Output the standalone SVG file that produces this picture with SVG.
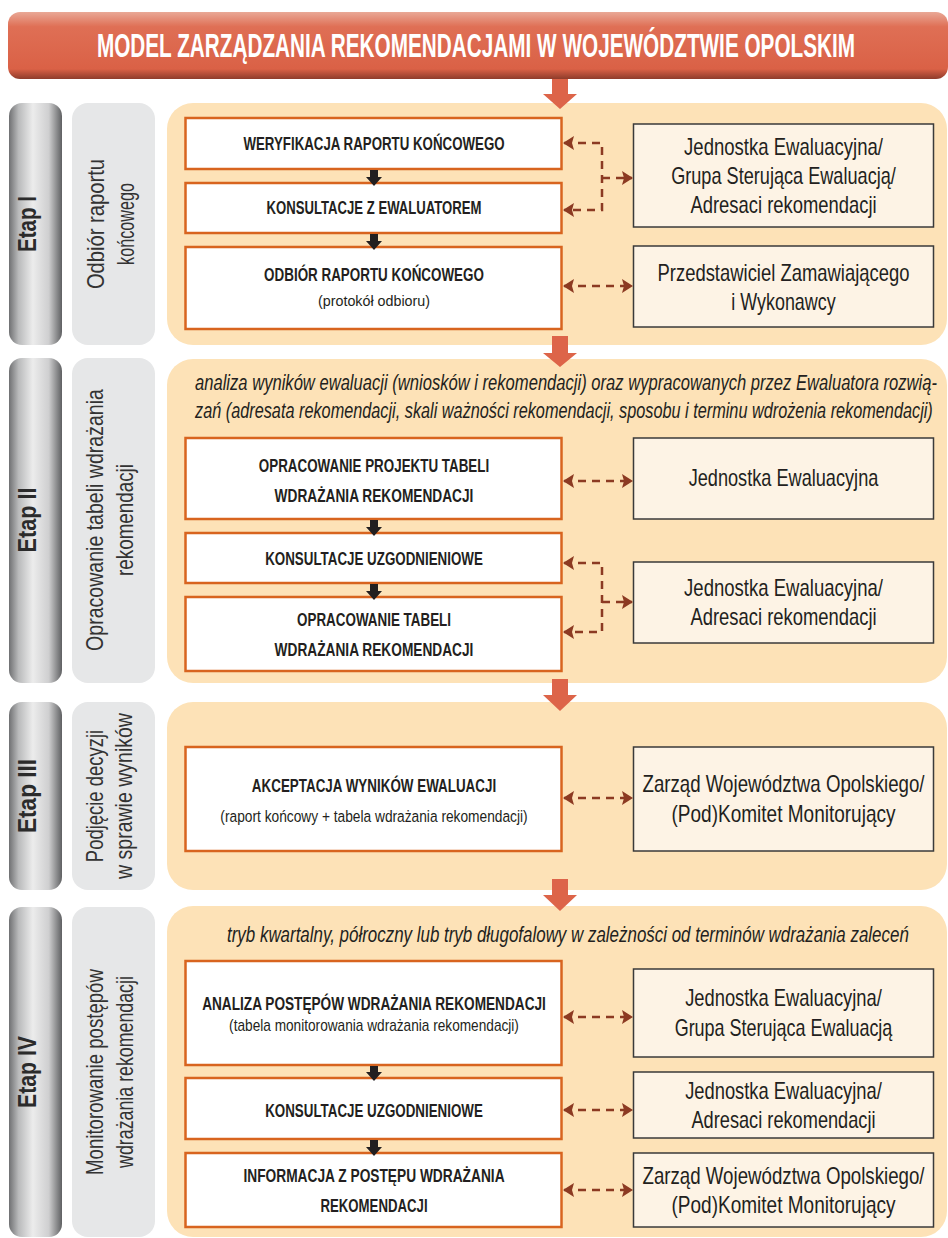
<svg xmlns="http://www.w3.org/2000/svg" width="948" height="1238" viewBox="0 0 948 1238">
<defs>
<linearGradient id="gTitle" x1="0" y1="0" x2="0" y2="1">
<stop offset="0" stop-color="#e9a896"/>
<stop offset="0.22" stop-color="#df6f55"/>
<stop offset="0.85" stop-color="#da6146"/>
<stop offset="1" stop-color="#8e3c2b"/>
</linearGradient>
<linearGradient id="gPill" x1="0" y1="0" x2="1" y2="0">
<stop offset="0" stop-color="#6f7072"/>
<stop offset="0.18" stop-color="#b9babb"/>
<stop offset="0.45" stop-color="#ececec"/>
<stop offset="0.75" stop-color="#cfcfd0"/>
<stop offset="1" stop-color="#5f6062"/>
</linearGradient>
<marker id="ah" markerUnits="userSpaceOnUse" markerWidth="12" markerHeight="14" refX="10" refY="7" orient="auto-start-reverse">
<path d="M0,0 L11,7 L0,14 L2,7 z" fill="#8c3a22"/>
</marker>
<style>
.t{font-family:"Liberation Sans",Arial,sans-serif;fill:#231f20}
.bx{font-weight:bold;font-size:19px;text-anchor:middle}
.sub{font-size:16px;text-anchor:middle}
.rt{font-size:23px;text-anchor:middle}
.it{font-style:italic;font-size:22px}
.side{font-size:23px;text-anchor:middle;fill:#333}
.etap{font-weight:bold;font-size:25px;text-anchor:middle;fill:#2b2b2b}
.ttl{font-weight:bold;font-size:33px;text-anchor:middle;fill:#ffffff}
.panel{fill:#fde2b7}
.lbox{fill:#ffffff;stroke:#d8641f;stroke-width:2.5}
.rbox{fill:#fdf3e5;stroke:#3a3a3a;stroke-width:1.5}
.pill{fill:url(#gPill)}
.side-bg{fill:#e6e7e8}
.dash{fill:none;stroke:#8c3a22;stroke-width:2.5;stroke-dasharray:8 6;marker-start:url(#ah);marker-end:url(#ah)}
.dash1{fill:none;stroke:#8c3a22;stroke-width:2.5;stroke-dasharray:8 6;marker-end:url(#ah)}
.red{fill:#dd6449}
.blk{fill:#231f20}
</style>
</defs>
<rect width="948" height="1238" fill="#ffffff"/>

<g id="title">
<rect x="8" y="12" width="940" height="67" rx="12" fill="url(#gTitle)"/>
<text class="t ttl" transform="translate(476,57) scale(0.61,1)" textLength="1243" lengthAdjust="spacingAndGlyphs">MODEL ZARZĄDZANIA REKOMENDACJAMI W WOJEWÓDZTWIE OPOLSKIM</text>
</g>

<g id="etap1-bg">
<rect class="pill" x="9" y="103" width="53" height="242" rx="13"/>
<rect class="side-bg" x="72" y="103" width="83" height="242" rx="16"/>
<rect class="panel" x="167" y="103" width="780" height="242" rx="26"/>
<text class="t etap" transform="translate(36,224) rotate(-90) scale(0.7,1)" textLength="80" lengthAdjust="spacingAndGlyphs">Etap I</text>
<text class="t side" transform="translate(104,224) rotate(-90) scale(0.7,1)" textLength="186" lengthAdjust="spacingAndGlyphs">Odbiór raportu</text>
<text class="t side" transform="translate(134,224) rotate(-90) scale(0.7,1)" textLength="117" lengthAdjust="spacingAndGlyphs">końcowego</text>
</g>
<g id="etap2-bg">
<rect class="pill" x="9" y="358" width="53" height="325" rx="13"/>
<rect class="side-bg" x="72" y="358" width="83" height="325" rx="16"/>
<rect class="panel" x="167" y="359" width="780" height="324" rx="26"/>
<text class="t etap" transform="translate(36,520) rotate(-90) scale(0.7,1)" textLength="93" lengthAdjust="spacingAndGlyphs">Etap II</text>
<text class="t side" transform="translate(103,520) rotate(-90) scale(0.7,1)" textLength="374" lengthAdjust="spacingAndGlyphs">Opracowanie tabeli wdrażania</text>
<text class="t side" transform="translate(133,520) rotate(-90) scale(0.7,1)" textLength="160" lengthAdjust="spacingAndGlyphs">rekomendacji</text>
<text class="t it" transform="translate(195,390) scale(0.7,1)" textLength="1060" lengthAdjust="spacingAndGlyphs">analiza wyników ewaluacji (wniosków i rekomendacji) oraz wypracowanych przez Ewaluatora rozwią-</text>
<text class="t it" transform="translate(195,418) scale(0.7,1)" textLength="1054" lengthAdjust="spacingAndGlyphs">zań (adresata rekomendacji, skali ważności rekomendacji, sposobu i terminu wdrożenia rekomendacji)</text>
</g>
<g id="etap3-bg">
<rect class="pill" x="9" y="702" width="53" height="188" rx="13"/>
<rect class="side-bg" x="72" y="702" width="83" height="188" rx="16"/>
<rect class="panel" x="167" y="702" width="780" height="188" rx="26"/>
<text class="t etap" transform="translate(36,796) rotate(-90) scale(0.7,1)" textLength="106" lengthAdjust="spacingAndGlyphs">Etap III</text>
<text class="t side" transform="translate(103,796) rotate(-90) scale(0.7,1)" textLength="189" lengthAdjust="spacingAndGlyphs">Podjęcie decyzji</text>
<text class="t side" transform="translate(132,796) rotate(-90) scale(0.7,1)" textLength="237" lengthAdjust="spacingAndGlyphs">w sprawie wyników</text>
</g>
<g id="etap4-bg">
<rect class="pill" x="9" y="907" width="53" height="330" rx="13"/>
<rect class="side-bg" x="72" y="907" width="83" height="330" rx="16"/>
<rect class="panel" x="167" y="906" width="780" height="331" rx="26"/>
<text class="t etap" transform="translate(36,1072) rotate(-90) scale(0.7,1)" textLength="103" lengthAdjust="spacingAndGlyphs">Etap IV</text>
<text class="t side" transform="translate(103,1072) rotate(-90) scale(0.7,1)" textLength="294" lengthAdjust="spacingAndGlyphs">Monitorowanie postępów</text>
<text class="t side" transform="translate(133,1072) rotate(-90) scale(0.7,1)" textLength="274" lengthAdjust="spacingAndGlyphs">wdrażania rekomendacji</text>
<text class="t it" transform="translate(227,942) scale(0.7,1)" textLength="974" lengthAdjust="spacingAndGlyphs">tryb kwartalny, półroczny lub tryb długofalowy w zależności od terminów wdrażania zaleceń</text>
</g>

<g id="n-weryfikacja">
<rect class="lbox" x="185.5" y="118" width="376" height="51"/>
<text class="t bx" transform="translate(374,150) scale(0.7,1)" textLength="373" lengthAdjust="spacingAndGlyphs">WERYFIKACJA RAPORTU KOŃCOWEGO</text>
</g>
<g id="n-konsultacje-ewal">
<rect class="lbox" x="185.5" y="183" width="376" height="50"/>
<text class="t bx" transform="translate(374,214) scale(0.7,1)" textLength="307" lengthAdjust="spacingAndGlyphs">KONSULTACJE Z EWALUATOREM</text>
</g>
<g id="n-odbior">
<rect class="lbox" x="185.5" y="247" width="376" height="82"/>
<text class="t bx" transform="translate(374,281) scale(0.7,1)" textLength="314" lengthAdjust="spacingAndGlyphs">ODBIÓR RAPORTU KOŃCOWEGO</text>
<text class="t sub" transform="translate(374,306) scale(0.7,1)" style="font-size:15px" textLength="160" lengthAdjust="spacingAndGlyphs">(protokół odbioru)</text>
</g>
<g id="r-jednostka-grupa-adresaci">
<rect class="rbox" x="633.5" y="124" width="300" height="103"/>
<text class="t rt" transform="translate(783.5,155) scale(0.7,1)" textLength="284" lengthAdjust="spacingAndGlyphs">Jednostka Ewaluacyjna/</text>
<text class="t rt" transform="translate(783.5,184) scale(0.7,1)" textLength="321" lengthAdjust="spacingAndGlyphs">Grupa Sterująca Ewaluacją/</text>
<text class="t rt" transform="translate(783.5,213) scale(0.7,1)" textLength="266" lengthAdjust="spacingAndGlyphs">Adresaci rekomendacji</text>
</g>
<g id="r-przedstawiciel">
<rect class="rbox" x="633.5" y="246" width="300" height="81"/>
<text class="t rt" transform="translate(783.5,281) scale(0.7,1)" textLength="360" lengthAdjust="spacingAndGlyphs">Przedstawiciel Zamawiającego</text>
<text class="t rt" transform="translate(783.5,310) scale(0.7,1)" textLength="149" lengthAdjust="spacingAndGlyphs">i Wykonawcy</text>
</g>

<g id="n-projekt-tabeli">
<rect class="lbox" x="185.5" y="438" width="376" height="81"/>
<text class="t bx" transform="translate(374,472) scale(0.7,1)" textLength="329" lengthAdjust="spacingAndGlyphs">OPRACOWANIE PROJEKTU TABELI</text>
<text class="t bx" transform="translate(374,502) scale(0.7,1)" textLength="284" lengthAdjust="spacingAndGlyphs">WDRAŻANIA REKOMENDACJI</text>
</g>
<g id="n-konsultacje-2">
<rect class="lbox" x="185.5" y="533" width="376" height="50"/>
<text class="t bx" transform="translate(374,565) scale(0.7,1)" textLength="311" lengthAdjust="spacingAndGlyphs">KONSULTACJE UZGODNIENIOWE</text>
</g>
<g id="n-tabela">
<rect class="lbox" x="185.5" y="597" width="376" height="74"/>
<text class="t bx" transform="translate(374,626) scale(0.7,1)" textLength="220" lengthAdjust="spacingAndGlyphs">OPRACOWANIE TABELI</text>
<text class="t bx" transform="translate(374,656) scale(0.7,1)" textLength="284" lengthAdjust="spacingAndGlyphs">WDRAŻANIA REKOMENDACJI</text>
</g>
<g id="r-jednostka-2">
<rect class="rbox" x="633.5" y="438" width="300" height="81"/>
<text class="t rt" transform="translate(783.5,486) scale(0.7,1)" textLength="271" lengthAdjust="spacingAndGlyphs">Jednostka Ewaluacyjna</text>
</g>
<g id="r-jednostka-adresaci-2">
<rect class="rbox" x="633.5" y="562" width="300" height="81"/>
<text class="t rt" transform="translate(783.5,596) scale(0.7,1)" textLength="284" lengthAdjust="spacingAndGlyphs">Jednostka Ewaluacyjna/</text>
<text class="t rt" transform="translate(783.5,625) scale(0.7,1)" textLength="266" lengthAdjust="spacingAndGlyphs">Adresaci rekomendacji</text>
</g>

<g id="n-akceptacja">
<rect class="lbox" x="185.5" y="747" width="376" height="104"/>
<text class="t bx" transform="translate(374,792) scale(0.7,1)" textLength="349" lengthAdjust="spacingAndGlyphs">AKCEPTACJA WYNIKÓW EWALUACJI</text>
<text class="t sub" transform="translate(374,822) scale(0.7,1)" style="font-size:17px" textLength="439" lengthAdjust="spacingAndGlyphs">(raport końcowy + tabela wdrażania rekomendacji)</text>
</g>
<g id="r-zarzad-3">
<rect class="rbox" x="633.5" y="747" width="300" height="104"/>
<text class="t rt" transform="translate(783.5,792) scale(0.7,1)" textLength="403" lengthAdjust="spacingAndGlyphs">Zarząd Województwa Opolskiego/</text>
<text class="t rt" transform="translate(783.5,822) scale(0.7,1)" textLength="320" lengthAdjust="spacingAndGlyphs">(Pod)Komitet Monitorujący</text>
</g>

<g id="n-analiza">
<rect class="lbox" x="185.5" y="961" width="376" height="104"/>
<text class="t bx" transform="translate(374,1010) scale(0.7,1)" textLength="491" lengthAdjust="spacingAndGlyphs">ANALIZA POSTĘPÓW WDRAŻANIA REKOMENDACJI</text>
<text class="t sub" transform="translate(374,1031) scale(0.7,1)" textLength="414" lengthAdjust="spacingAndGlyphs">(tabela monitorowania wdrażania rekomendacji)</text>
</g>
<g id="n-konsultacje-4">
<rect class="lbox" x="185.5" y="1078" width="376" height="61"/>
<text class="t bx" transform="translate(374,1117) scale(0.7,1)" textLength="311" lengthAdjust="spacingAndGlyphs">KONSULTACJE UZGODNIENIOWE</text>
</g>
<g id="n-informacja">
<rect class="lbox" x="185.5" y="1153" width="376" height="74"/>
<text class="t bx" transform="translate(374,1182) scale(0.7,1)" textLength="373" lengthAdjust="spacingAndGlyphs">INFORMACJA Z POSTĘPU WDRAŻANIA</text>
<text class="t bx" transform="translate(374,1212) scale(0.7,1)" textLength="153" lengthAdjust="spacingAndGlyphs">REKOMENDACJI</text>
</g>
<g id="r-jednostka-grupa-4">
<rect class="rbox" x="633.5" y="969" width="300" height="88"/>
<text class="t rt" transform="translate(783.5,1006) scale(0.7,1)" textLength="281" lengthAdjust="spacingAndGlyphs">Jednostka Ewaluacyjna/</text>
<text class="t rt" transform="translate(783.5,1036) scale(0.7,1)" textLength="311" lengthAdjust="spacingAndGlyphs">Grupa Sterująca Ewaluacją</text>
</g>
<g id="r-jednostka-adresaci-4">
<rect class="rbox" x="633.5" y="1072" width="300" height="66"/>
<text class="t rt" transform="translate(783.5,1099) scale(0.7,1)" textLength="281" lengthAdjust="spacingAndGlyphs">Jednostka Ewaluacyjna/</text>
<text class="t rt" transform="translate(783.5,1128) scale(0.7,1)" textLength="263" lengthAdjust="spacingAndGlyphs">Adresaci rekomendacji</text>
</g>
<g id="r-zarzad-4">
<rect class="rbox" x="633.5" y="1153" width="300" height="74"/>
<text class="t rt" transform="translate(783.5,1184) scale(0.7,1)" textLength="403" lengthAdjust="spacingAndGlyphs">Zarząd Województwa Opolskiego/</text>
<text class="t rt" transform="translate(783.5,1213) scale(0.7,1)" textLength="320" lengthAdjust="spacingAndGlyphs">(Pod)Komitet Monitorujący</text>
</g>

<g id="connectors">
<polygon class="red" points="552,79 568,79 568,94 577,94 560,109 543,94 552,94"/>
<polygon class="red" points="552,336 568,336 568,353 577,353 560,367 543,353 552,353"/>
<polygon class="red" points="552,679 568,679 568,695 577,695 560,711 543,695 552,695"/>
<polygon class="red" points="552,879 568,879 568,895 577,895 560,911 543,895 552,895"/>
<polygon class="blk" points="370,170 378,170 378,177 382,177 374,186 366,177 370,177"/>
<polygon class="blk" points="370,234 378,234 378,241 382,241 374,250 366,241 370,241"/>
<polygon class="blk" points="370,520 378,520 378,527 382,527 374,536 366,527 370,527"/>
<polygon class="blk" points="370,584 378,584 378,591 382,591 374,600 366,591 370,591"/>
<polygon class="blk" points="370,1066 378,1066 378,1072 382,1072 374,1081 366,1072 370,1072"/>
<polygon class="blk" points="370,1140 378,1140 378,1147 382,1147 374,1156 366,1147 370,1147"/>
<path class="dash" d="M564,143 H602 V210 H564"/>
<path class="dash1" d="M602,178 H632"/>
<path class="dash" d="M564,286 H632"/>
<path class="dash" d="M564,481 H632"/>
<path class="dash" d="M564,563 H602 V632 H564"/>
<path class="dash1" d="M602,602 H632"/>
<path class="dash" d="M564,798 H632"/>
<path class="dash" d="M564,1017 H632"/>
<path class="dash" d="M564,1110 H632"/>
<path class="dash" d="M564,1190 H632"/>
</g>
</svg>
